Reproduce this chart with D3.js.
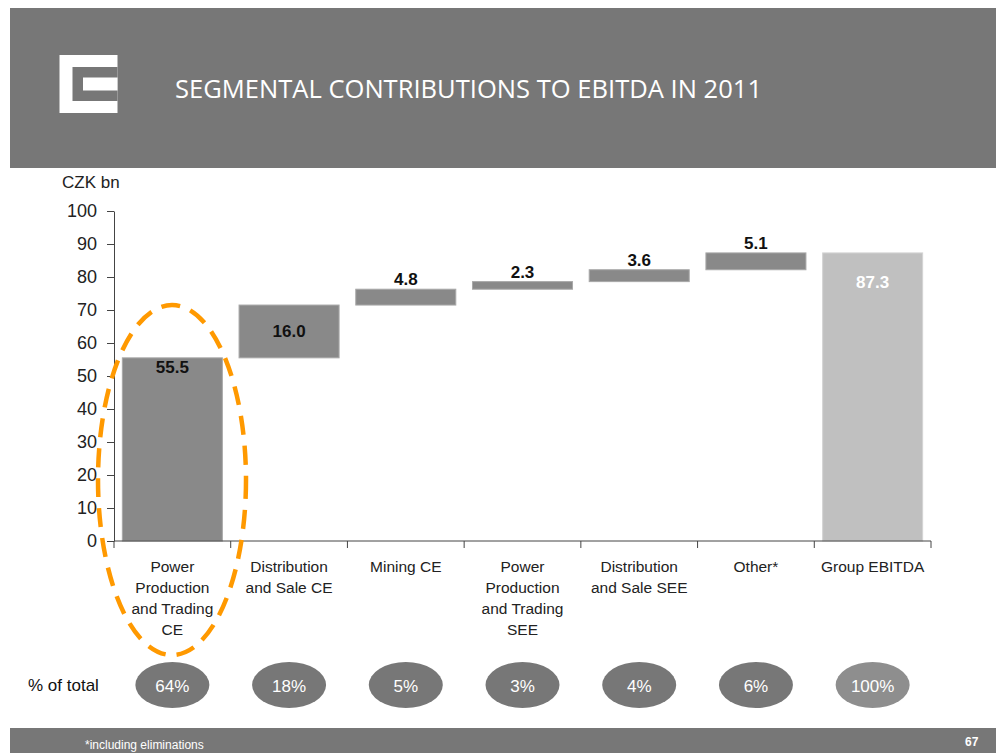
<!DOCTYPE html>
<html><head><meta charset="utf-8">
<script src="https://cdn.jsdelivr.net/npm/d3@7"></script>
<style>body{margin:0;background:#fff}svg{display:block}text{font-family:"Liberation Sans",Arial,sans-serif}</style>
</head><body>
<svg id="c" width="996" height="753"></svg>
<script>
const categories = [["Power","Production","and Trading","CE"],["Distribution","and Sale CE"],["Mining CE"],["Power","Production","and Trading","SEE"],["Distribution","and Sale SEE"],["Other*"],["Group EBITDA"]];
const values = [55.5, 16.0, 4.8, 2.3, 3.6, 5.1, 87.3];
const isTotal = [false,false,false,false,false,false,true];
const shares = ["64%","18%","5%","3%","4%","6%","100%"];
const yTicks = [0,10,20,30,40,50,60,70,80,90,100];

const svg = d3.select("#c");
// header
svg.append("rect").attr("x",10).attr("y",8).attr("width",986).attr("height",160).attr("fill","#777777");
// logo
const lg = svg.append("g");
lg.append("rect").attr("x",59.5).attr("y",55).attr("width",58).attr("height",58).attr("fill","#fff");
lg.append("rect").attr("x",72.5).attr("y",67).attr("width",45).attr("height",34).attr("fill","#777777");
lg.append("rect").attr("x",83).attr("y",77.5).attr("width",34.5).attr("height",13).attr("fill","#fff");
svg.append("text").attr("x",175).attr("y",98).attr("fill","#fff").attr("font-size",25)
  .attr("textLength",587).attr("lengthAdjust","spacingAndGlyphs")
  .style("font-family","'Open Sans',sans-serif").text("SEGMENTAL CONTRIBUTIONS TO EBITDA IN 2011");

// footer
svg.append("rect").attr("x",10).attr("y",728).attr("width",986).attr("height",25).attr("fill","#777777");
svg.append("text").attr("x",85).attr("y",749).attr("fill","#fff").attr("font-size",12).text("*including eliminations");
svg.append("text").attr("x",965).attr("y",746).attr("fill","#fff").attr("font-size",12).attr("font-weight","bold").text("67");

const x = d3.scaleBand().domain(d3.range(values.length)).range([114,931]).paddingInner(0.143).paddingOuter(0.0715);
const y = d3.scaleLinear().domain([0,100]).range([541,211]);

// waterfall
let run = 0;
const bars = values.map((v,i)=>{
  let lo, hi;
  if (isTotal[i]) { lo = 0; hi = v; }
  else { lo = run; hi = run + v; run = hi; }
  return {i, v, lo, hi, total:isTotal[i]};
});

const g = svg.append("g");
g.selectAll("rect.bar").data(bars).join("rect").attr("class","bar")
  .attr("x",d=>x(d.i)).attr("width",x.bandwidth())
  .attr("y",d=>y(d.hi)).attr("height",d=>y(d.lo)-y(d.hi))
  .attr("fill",d=>d.total?"#c0c0c0":"#898989")
  .attr("stroke",d=>d.total?"#d4d4d4":"#a8a8a8").attr("stroke-width",1);

// labels
g.selectAll("text.val").data(bars).join("text").attr("class","val")
  .attr("x",d=>x(d.i)+x.bandwidth()/2)
  .attr("y",d=>{
    if (d.i===0) return y(d.hi)+15;
    if (d.total) return y(d.hi)+35;
    if (d.i===1) return (y(d.hi)+y(d.lo))/2+6;
    return y(d.hi)-4;
  })
  .attr("text-anchor","middle").attr("font-size",17).attr("font-weight","bold")
  .attr("fill",d=>d.total?"#fff":"#111")
  .text(d=>d.v.toFixed(1));

// y axis
const ya = svg.append("g").attr("transform","translate(114,0)")
  .call(d3.axisLeft(y).tickValues(yTicks).tickSize(7).tickPadding(10).tickSizeOuter(0));
ya.select(".domain").attr("stroke","#444");
ya.selectAll(".tick line").attr("stroke","#444");
ya.selectAll(".tick text").attr("font-size",18).attr("fill","#222").style("font-family","'Liberation Sans',Arial,sans-serif");

// x axis
svg.append("line").attr("x1",114).attr("x2",931).attr("y1",541).attr("y2",541).attr("stroke","#444");
const bounds = d3.range(values.length+1).map(k=>114 + k*x.step());
svg.selectAll("line.xt").data(bounds).join("line").attr("class","xt")
  .attr("x1",d=>d).attr("x2",d=>d).attr("y1",541).attr("y2",548).attr("stroke","#444");

// category labels
const cl = svg.selectAll("text.cat").data(categories).join("text").attr("class","cat")
  .attr("text-anchor","middle").attr("font-size",15.5).attr("fill","#222");
cl.each(function(lines,i){
  const t = d3.select(this);
  lines.forEach((ln,k)=>{
    t.append("tspan").attr("x",x(i)+x.bandwidth()/2).attr("y",572+k*21).text(ln);
  });
});

svg.append("text").attr("x",62).attr("y",188).attr("font-size",17).attr("fill","#222").text("CZK bn");

// % of total
svg.append("text").attr("x",28).attr("y",691).attr("font-size",17).attr("fill","#111").text("% of total");
const pg = svg.selectAll("g.pct").data(shares).join("g").attr("class","pct")
  .attr("transform",(d,i)=>`translate(${x(i)+x.bandwidth()/2},685)`);
pg.append("ellipse").attr("rx",37).attr("ry",23).attr("fill",(d,i)=>isTotal[i]?"#8e8e8e":"#777777");
pg.append("text").attr("text-anchor","middle").attr("y",6.5).attr("font-size",17).attr("fill","#fff").text(d=>d);

// orange dashed highlight
svg.append("ellipse").attr("cx",172).attr("cy",480).attr("rx",74).attr("ry",175)
  .attr("fill","none").attr("stroke","#ff9900").attr("stroke-width",4.5).attr("stroke-dasharray","19,11");
</script>
</body></html>
